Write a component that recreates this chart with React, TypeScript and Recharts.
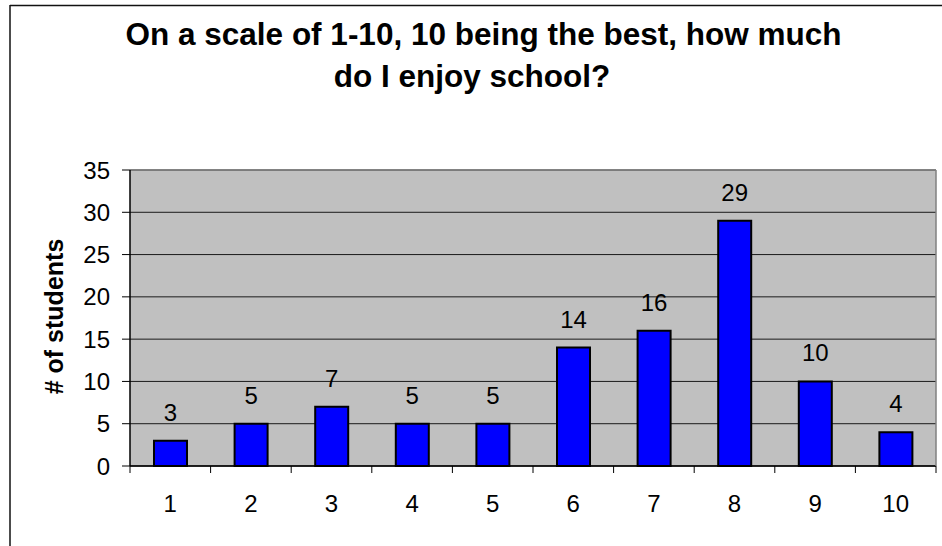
import React from 'react';
import { BarChart, Bar, XAxis, YAxis, CartesianGrid, LabelList, ReferenceLine } from 'recharts';

const categories = ['1', '2', '3', '4', '5', '6', '7', '8', '9', '10'];
const counts = [3, 5, 7, 5, 5, 14, 16, 29, 10, 4];
const yTicks = [0, 5, 10, 15, 20, 25, 30, 35];
const titleLine1 = 'On a scale of 1-10, 10 being the best, how much';
const titleLine2 = 'do I enjoy school?';
const yLabel = '# of students';

const data = categories.map((c, i) => ({ label: c, value: counts[i] }));

const W = 942;
const H = 546;
const MARGIN = { top: 170, right: 5, bottom: 40, left: 10 };
const YAXIS_W = 120;
const RIGHT_AXIS_W = 1;
const PLOT_W = W - MARGIN.left - MARGIN.right - YAXIS_W - RIGHT_AXIS_W;
const FONT = '"Liberation Sans", Arial, sans-serif';

const XTick = (props: any) => {
  const { x, y, payload, index } = props;
  const step = PLOT_W / categories.length;
  const left = x - step / 2;
  const right = x + step / 2;
  return (
    <g>
      <line x1={left} y1={y} x2={left} y2={y + 7} stroke="#000" strokeWidth={1} />
      {index === categories.length - 1 && (
        <line x1={right} y1={y} x2={right} y2={y + 7} stroke="#000" strokeWidth={1} />
      )}
      <text x={x} y={y + 46} textAnchor="middle" fontSize={24} fill="#000" fontFamily={FONT}>
        {payload.value}
      </text>
    </g>
  );
};

export default function App() {
  return (
    <div style={{ position: 'absolute', left: 0, top: 0, width: W, height: H, background: '#fff', fontFamily: FONT }}>
      <div style={{ position: 'absolute', left: 0, top: 0 }}>
        <BarChart width={W} height={H} data={data} margin={MARGIN} barSize={33}>
          <CartesianGrid vertical={false} fill="#C0C0C0" stroke="#1a1a1a" strokeWidth={1} fillOpacity={1} />
          <XAxis
            dataKey="label"
            height={40}
            interval={0}
            tickLine={false}
            tickSize={0}
            tickMargin={0}
            axisLine={{ stroke: '#000', strokeWidth: 1.5 }}
            tick={<XTick />}
          />
          <YAxis
            width={YAXIS_W}
            domain={[0, 35]}
            ticks={yTicks}
            interval={0}
            tickSize={8}
            tickMargin={12}
            axisLine={{ stroke: '#000', strokeWidth: 1.5 }}
            tickLine={{ stroke: '#000' }}
            tick={{ fontSize: 24, fill: '#000', fontFamily: FONT }}
          />
          <YAxis
            yAxisId="r"
            orientation="right"
            width={RIGHT_AXIS_W}
            domain={[0, 35]}
            tick={false}
            tickLine={false}
            axisLine={{ stroke: '#808080', strokeWidth: 1.5 }}
          />
          <ReferenceLine y={35} stroke="#808080" strokeWidth={1.5} />
          <Bar dataKey="value" fill="#0000FF" stroke="#000" strokeWidth={2} isAnimationActive={false}>
            <LabelList dataKey="value" position="top" offset={20} fill="#000" fontSize={24} fontFamily={FONT} />
          </Bar>
        </BarChart>
      </div>
      <svg width={W} height={H} style={{ position: 'absolute', left: 0, top: 0, pointerEvents: 'none' }}>
        <line x1={10} y1={5.5} x2={W} y2={5.5} stroke="#111" strokeWidth={1.5} />
        <line x1={10} y1={5} x2={10} y2={H} stroke="#111" strokeWidth={1.5} />
        <text x={483.5} y={45} textAnchor="middle" fontSize={31.5} fontWeight="bold" fill="#000" fontFamily={FONT}>
          {titleLine1}
        </text>
        <text x={472} y={87} textAnchor="middle" fontSize={31.5} fontWeight="bold" fill="#000" fontFamily={FONT}>
          {titleLine2}
        </text>
        <text
          transform="translate(63,316.5) rotate(-90)"
          textAnchor="middle"
          fontSize={25}
          fontWeight="bold"
          fill="#000"
          fontFamily={FONT}
        >
          {yLabel}
        </text>
      </svg>
    </div>
  );
}
